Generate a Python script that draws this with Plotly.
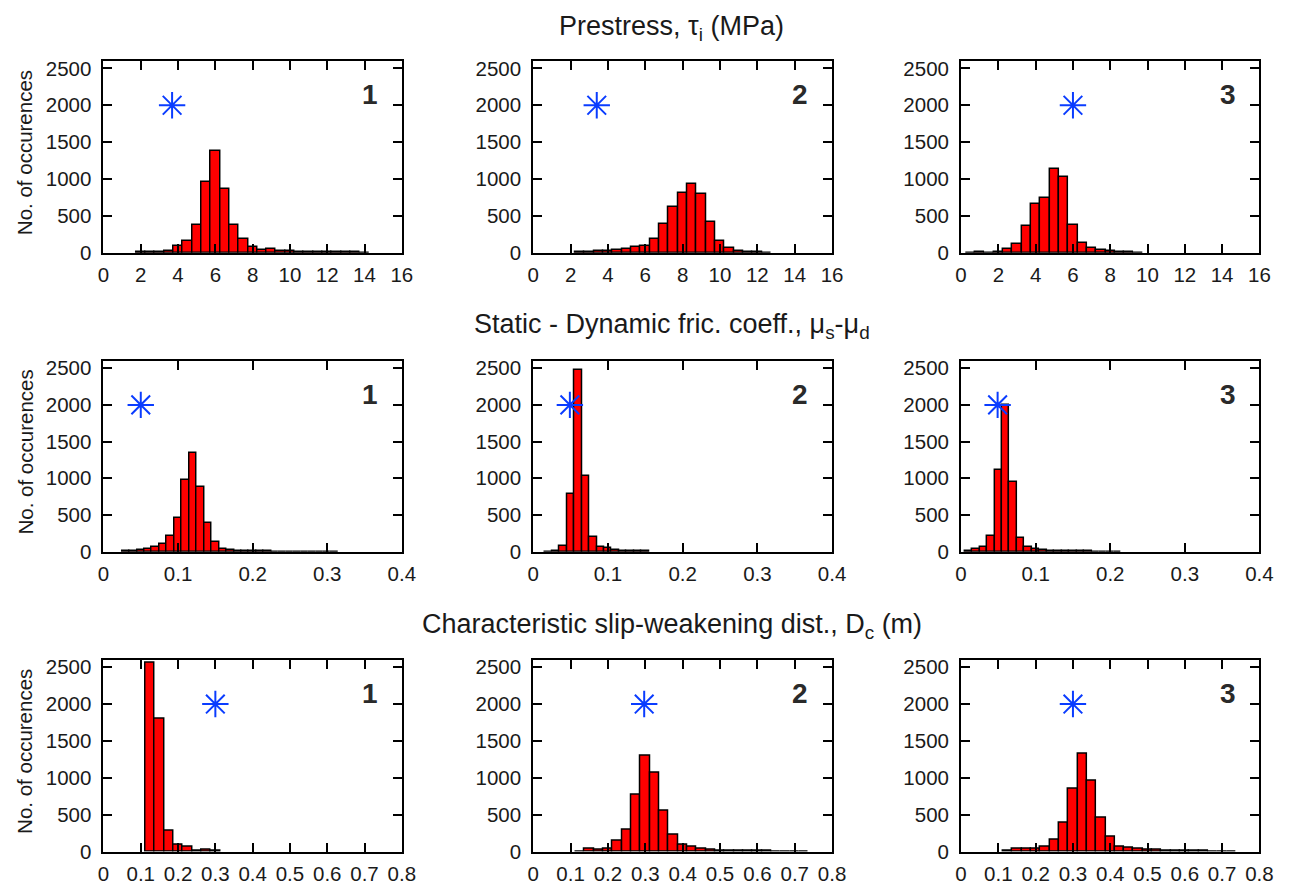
import plotly.graph_objects as go

W, H = 1299, 892

# ---------------- data ----------------
row_titles = ["Prestress, τ<sub>i</sub> (MPa)",
              "Static - Dynamic fric. coeff., μ<sub>s</sub>-μ<sub>d</sub>",
              "Characteristic slip-weakening dist., D<sub>c</sub> (m)"]
panel_labels = ["1", "2", "3"]
y_label = "No. of occurences"

# Row 1: prestress (bin width 0.5 MPa)
pre1_x = [2.0, 2.5, 3.0, 3.5, 4.0, 4.5, 5.0, 5.5, 6.0, 6.5, 7.0, 7.5, 8.0, 8.5, 9.0, 9.5,
          10.0, 10.5, 11.0, 11.5, 12.0, 12.5, 13.0, 13.5, 14.0]
pre1_y = [5, 8, 12, 30, 93, 160, 373, 960, 1385, 862, 373, 182, 71, 40, 44, 27,
          18, 13, 12, 8, 8, 6, 12, 5, 3]
pre2_x = [2.5, 3.0, 3.5, 4.0, 4.5, 5.0, 5.5, 6.0, 6.5, 7.0, 7.5, 8.0, 8.5, 9.0, 9.5,
          10.0, 10.5, 11.0, 11.5, 12.0, 12.5]
pre2_y = [12, 15, 30, 30, 36, 44, 71, 93, 182, 387, 622, 813, 929, 791, 422,
          156, 62, 30, 12, 8, 3]
pre3_x = [0.5, 1.0, 1.5, 2.0, 2.5, 3.0, 3.5, 4.0, 4.5, 5.0, 5.5, 6.0, 6.5, 7.0, 7.5,
          8.0, 8.5, 9.0, 9.5]
pre3_y = [3, 8, 3, 8, 44, 124, 364, 658, 742, 1142, 1031, 382, 138, 67, 31,
          18, 8, 5, 3]

# Row 2: mu_s - mu_d (bin width 0.01)
fr1_x = [0.03, 0.04, 0.05, 0.06, 0.07, 0.08, 0.09, 0.10, 0.11, 0.12, 0.13, 0.14, 0.15,
         0.16, 0.17, 0.18, 0.19, 0.20, 0.21, 0.22, 0.23, 0.24, 0.25, 0.26, 0.27, 0.28,
         0.29, 0.30, 0.31]
fr1_y = [5, 13, 22, 31, 63, 112, 215, 456, 980, 1347, 877, 398, 134,
         40, 18, 9, 9, 5, 4, 4, 3, 3, 3, 3, 3, 3, 3, 3, 3]
fr2_x = [0.02, 0.03, 0.04, 0.05, 0.06, 0.07, 0.08, 0.09, 0.10, 0.11, 0.12, 0.13, 0.14, 0.15]
fr2_y = [3, 9, 81, 792, 2474, 1034, 201, 67, 45, 22, 13, 9, 5, 5]
fr3_x = [0.01, 0.02, 0.03, 0.04, 0.05, 0.06, 0.07, 0.08, 0.09, 0.10, 0.11, 0.12, 0.13,
         0.14, 0.15, 0.16, 0.17, 0.18, 0.19, 0.20, 0.21]
fr3_y = [10, 31, 63, 215, 1118, 2004, 957, 188, 58, 31, 27, 13, 9,
         5, 9, 5, 4, 3, 3, 3, 3]

# Row 3: Dc (bin width 0.025 m)
dc1_x = [0.125, 0.15, 0.175, 0.2, 0.225, 0.25, 0.275, 0.3]
dc1_y = [2561, 1800, 281, 85, 62, 13, 27, 9]
dc2_x = [0.125, 0.15, 0.175, 0.2, 0.225, 0.25, 0.275, 0.3, 0.325, 0.35, 0.375, 0.4,
         0.425, 0.45, 0.475, 0.5, 0.525, 0.55, 0.575, 0.6, 0.625, 0.65, 0.675, 0.7, 0.725]
dc2_y = [3, 31, 27, 36, 151, 290, 775, 1301, 1065, 552, 227, 93,
         67, 36, 22, 13, 9, 5, 5, 4, 4, 3, 3, 3, 3]
dc3_x = [0.125, 0.15, 0.175, 0.2, 0.225, 0.25, 0.275, 0.3, 0.325, 0.35, 0.375, 0.4,
         0.425, 0.45, 0.475, 0.5, 0.525, 0.55, 0.575, 0.6, 0.625, 0.65, 0.675, 0.7, 0.725]
dc3_y = [9, 36, 40, 31, 62, 160, 392, 855, 1323, 962, 459, 205,
         67, 49, 40, 27, 18, 13, 5, 5, 4, 4, 3, 3, 3]

# true (target) values marked by stars
star_x = [[3.68, 3.4, 6.0], [0.05, 0.049, 0.049], [0.3, 0.297, 0.3]]
star_y = [[2000, 2000, 2000], [2000, 2000, 2000], [2000, 2000, 2000]]

bin_width = [0.5, 0.01, 0.025]
x_ranges = [[0, 16], [0, 0.4], [0, 0.8]]
x_ticks = [[0, 2, 4, 6, 8, 10, 12, 14, 16],
           [0, 0.1, 0.2, 0.3, 0.4],
           [0, 0.1, 0.2, 0.3, 0.4, 0.5, 0.6, 0.7, 0.8]]
x_ticktext = [["0", "2", "4", "6", "8", "10", "12", "14", "16"],
              ["0", "0.1", "0.2", "0.3", "0.4"],
              ["0", "0.1", "0.2", "0.3", "0.4", "0.5", "0.6", "0.7", "0.8"]]
y_ticks = [0, 500, 1000, 1500, 2000, 2500]
y_max = 2600

hist = [[(pre1_x, pre1_y), (pre2_x, pre2_y), (pre3_x, pre3_y)],
        [(fr1_x, fr1_y), (fr2_x, fr2_y), (fr3_x, fr3_y)],
        [(dc1_x, dc1_y), (dc2_x, dc2_y), (dc3_x, dc3_y)]]

# ---------------- layout geometry (pixels) ----------------
col_px = [(99, 402), (535.5, 839), (970, 1273)]
row_px = [(58, 253), (363, 557), (667, 862)]
title_px = [(676, 24), (676, 328), (676, 633)]

FONT = "Liberation Sans, Arial, sans-serif"
TXT = "#1a1a1a"
TICK_SIZE = 20.5

fig = go.Figure()
layout = dict(
    width=W, height=H, margin=dict(l=0, r=0, t=0, b=0),
    paper_bgcolor="white", plot_bgcolor="white",
    showlegend=False, bargap=0,
    font=dict(family=FONT, size=TICK_SIZE, color=TXT),
)
annotations = []

for r in range(3):
    for c in range(3):
        k = r * 3 + c + 1
        xa = "x" if k == 1 else f"x{k}"
        ya = "y" if k == 1 else f"y{k}"
        xs, ys = hist[r][c]
        fig.add_trace(go.Bar(
            x=xs, y=ys, width=bin_width[r], xaxis=xa, yaxis=ya,
            marker=dict(color="#ff0000", line=dict(color="black", width=1.5)),
        ))
        fig.add_trace(go.Scatter(
            x=[star_x[r][c]], y=[star_y[r][c]], mode="markers", xaxis=xa, yaxis=ya,
            marker=dict(symbol="asterisk-open", size=22, color="#0a3cff",
                        line=dict(color="#0a3cff", width=2)),
        ))
        x0, x1 = col_px[c]
        yt, yb = row_px[r]
        axname_x = "xaxis" if k == 1 else f"xaxis{k}"
        axname_y = "yaxis" if k == 1 else f"yaxis{k}"
        layout[axname_x] = dict(
            domain=[x0 / W, x1 / W], anchor=ya, range=x_ranges[r],
            tickmode="array", tickvals=x_ticks[r], ticktext=x_ticktext[r],
            ticks="inside", ticklen=9, tickwidth=2, tickcolor="black",
            showline=True, linecolor="black", linewidth=2, mirror="ticks",
            showgrid=False, zeroline=False, fixedrange=True,
            tickfont=dict(size=TICK_SIZE, color=TXT, family=FONT),
            ticklabelstandoff=3,
        )
        layout[axname_y] = dict(
            domain=[1 - yb / H, 1 - yt / H], anchor=xa, range=[0, y_max],
            tickmode="array", tickvals=y_ticks,
            ticks="inside", ticklen=9, tickwidth=2, tickcolor="black",
            showline=True, linecolor="black", linewidth=2, mirror="ticks",
            showgrid=False, zeroline=False, fixedrange=True,
            tickfont=dict(size=TICK_SIZE, color=TXT, family=FONT),
            ticklabelstandoff=6,
        )
        annotations.append(dict(
            x=(x1 - 22) / W, y=1 - (yt + 34) / H, xref="paper", yref="paper",
            text=f"<b>{panel_labels[c]}</b>", showarrow=False,
            xanchor="right", yanchor="middle",
            font=dict(size=28, color="#2a2a2a", family=FONT),
        ))
    # row title
    tx, ty = title_px[r]
    annotations.append(dict(
        x=tx / W, y=1 - ty / H, xref="paper", yref="paper",
        text=row_titles[r], showarrow=False, xanchor="center", yanchor="middle",
        font=dict(size=27, color=TXT, family=FONT),
    ))
    # y label
    yt, yb = row_px[r]
    annotations.append(dict(
        x=19.5 / W, y=1 - ((yt + yb) / 2 - 4) / H, xref="paper", yref="paper",
        text=y_label, showarrow=False, textangle=-90,
        xanchor="center", yanchor="middle",
        font=dict(size=20.5, color=TXT, family=FONT),
    ))

layout["annotations"] = annotations
fig.update_layout(**layout)
fig.write_html(
    "out.html",
    config={"displayModeBar": False},
    post_script=("document.documentElement.style.margin='0';"
                 "document.documentElement.style.overflow='hidden';"
                 "document.body.style.margin='0';document.body.style.padding='0';"
                 "document.body.style.overflow='hidden';"),
)
